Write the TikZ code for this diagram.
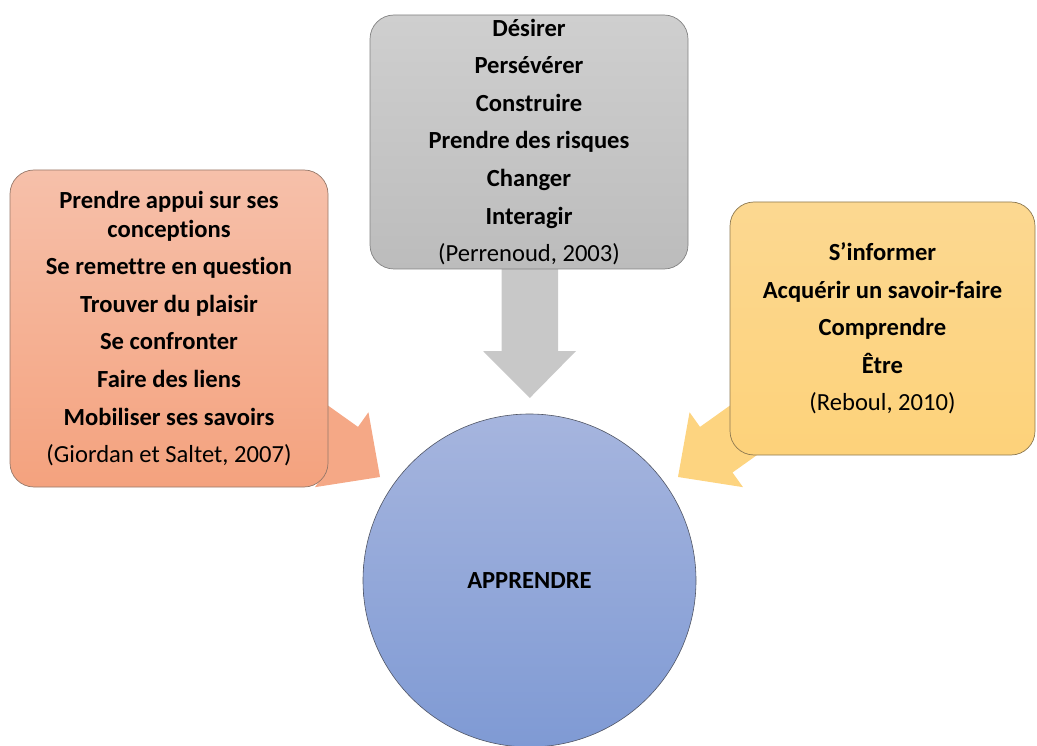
\documentclass[tikz,border=0pt]{standalone}
\usepackage{fontspec}
\setmainfont{Carlito}[Ligatures={NoCommon}]
\definecolor{grayTop}{RGB}{207,207,207}
\definecolor{grayBot}{RGB}{188,188,188}
\definecolor{grayLine}{RGB}{130,130,130}
\definecolor{grayArr}{RGB}{200,200,200}
\definecolor{salTop}{RGB}{246,192,170}
\definecolor{salBot}{RGB}{244,162,126}
\definecolor{salLine}{RGB}{150,120,105}
\definecolor{salArr}{RGB}{245,168,134}
\definecolor{yelTop}{RGB}{252,216,145}
\definecolor{yelBot}{RGB}{253,210,122}
\definecolor{yelLine}{RGB}{140,120,80}
\definecolor{yelArr}{RGB}{253,212,128}
\definecolor{bluTop}{RGB}{166,181,222}
\definecolor{bluBot}{RGB}{127,154,212}
\definecolor{bluLine}{RGB}{80,85,100}
\begin{document}
\begin{tikzpicture}[x=1pt,y=-1pt,
  txt/.style={align=center, inner sep=0pt, font=\bfseries\fontsize{24.6}{37.6}\selectfont},
  card/.style={txt, rounded corners=24pt, line width=0.7pt}]
\useasboundingbox (0,0) rectangle (1037,746);
% block arrows (behind the cards)
\fill[grayArr] (501.5,200) -- (558,200) -- (558,351) -- (576,351) -- (529.8,398) -- (483,351) -- (501.5,351) -- cycle;
\begin{scope}[shift={(380,477)}, rotate=-35.5]
  \fill[salArr] (0,0) -- (-47,46) -- (-47,28) -- (-190,28) -- (-190,-28) -- (-47,-28) -- (-47,-46) -- cycle;
\end{scope}
\begin{scope}[shift={(678,477)}, rotate=215.5]
  \fill[yelArr] (0,0) -- (-47,46) -- (-47,28) -- (-190,28) -- (-190,-28) -- (-47,-28) -- (-47,-46) -- cycle;
\end{scope}
% cards
\node[card, top color=grayTop, bottom color=grayBot, draw=grayLine,
      minimum width=318, minimum height=254] (perr) at (529,142)
  {Désirer\\ Persévérer\\ Construire\\ Prendre des risques\\ Changer\\ Interagir\\ {\mdseries (Perrenoud, 2003)}};
\node[card, top color=salTop, bottom color=salBot, draw=salLine,
      minimum width=318, minimum height=317] (gior) at (169,328.5)
  {Prendre appui sur ses\\[-8.6pt] conceptions\\ Se remettre en question\\ Trouver du plaisir\\ Se confronter\\ Faire des liens\\ Mobiliser ses savoirs\\ {\mdseries (Giordan et Saltet, 2007)}};
\node[card, top color=yelTop, bottom color=yelBot, draw=yelLine,
      minimum width=305, minimum height=253] (reb) at (882.5,328.5)
  {S’informer\\ Acquérir un savoir-faire\\ Comprendre\\ Être\\ {\mdseries (Reboul, 2010)}};
% center
\node[txt, circle, minimum size=333, top color=bluTop, bottom color=bluBot, draw=bluLine, line width=0.6pt] (app) at (529.5,580.5) {APPRENDRE};
\end{tikzpicture}
\end{document}
